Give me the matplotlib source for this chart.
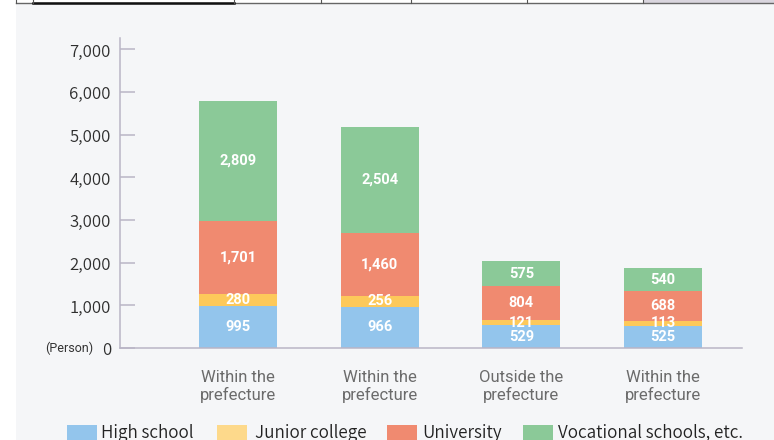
import matplotlib
matplotlib.use("Agg")
import matplotlib.pyplot as plt
from matplotlib.patches import Rectangle
from matplotlib.lines import Line2D
import numpy as np

categories = ["Within the\nprefecture", "Within the\nprefecture", "Outside the\nprefecture", "Within the\nprefecture"]
series_names = ["High school", "Junior college", "University", "Vocational schools, etc."]
high_school = [995, 966, 529, 525]
junior_college = [280, 256, 121, 113]
university = [1701, 1460, 804, 688]
vocational = [2809, 2504, 575, 540]
yticks = [0, 1000, 2000, 3000, 4000, 5000, 6000, 7000]
ytick_labels = ["0", "1,000", "2,000", "3,000", "4,000", "5,000", "6,000", "7,000"]

bar_colors = ["#93c5ec", "#fdc95a", "#f08a70", "#8bc998"]
legend_colors = ["#93c5ec", "#fdd98b", "#f08a70", "#8bc998"]

W, H = 774, 440
fig = plt.figure(figsize=(W / 100, H / 100), dpi=100)
fig.patch.set_facecolor("white")

def fx(px):
    return px / W

def fy(py):
    return 1 - py / H

# background panel
fig.patches.append(Rectangle((fx(16), 0), 1 - fx(16), fy(4), transform=fig.transFigure,
                             facecolor="#f5f6f8", edgecolor="none", zorder=-10))
# top strip decoration
fig.patches.append(Rectangle((fx(643), fy(3)), 1 - fx(643), fy(0) - fy(3), transform=fig.transFigure,
                             facecolor="#d9d5de", edgecolor="none", zorder=-9))
fig.lines.append(Line2D([fx(16), fx(774)], [fy(3.2), fy(3.2)], transform=fig.transFigure,
                        color="#666666", lw=1.0))
fig.lines.append(Line2D([fx(33), fx(234)], [fy(2.8), fy(2.8)], transform=fig.transFigure,
                        color="#111111", lw=1.8))
for vx in [16, 33, 234, 321, 411, 527, 643]:
    fig.lines.append(Line2D([fx(vx), fx(vx)], [fy(0), fy(3.5)], transform=fig.transFigure,
                            color="#555555", lw=0.8))

ax = fig.add_axes([fx(120), fy(348), fx(742) - fx(120), fy(38) - fy(348)])
ax.set_facecolor("none")

x = np.arange(len(categories))
width = 0.55
series = [high_school, junior_college, university, vocational]
bottom = np.zeros(len(categories))
for vals, col in zip(series, bar_colors):
    vals = np.array(vals, dtype=float)
    ax.bar(x, vals, width, bottom=bottom, color=col, edgecolor="none", zorder=2)
    for xi, b, v in zip(x, bottom, vals):
        ax.text(xi, b + v / 2, f"{int(v):,}", ha="center", va="center", color="white",
                fontsize=10.5, fontweight="bold", family=["Roboto", "DejaVu Sans"], zorder=3)
    bottom += vals

ax.set_xlim(-0.833, 3.558)
ax.set_ylim(0, 7260)

ax.set_yticks(yticks)
ax.set_yticklabels(ytick_labels, family=["Noto Sans CJK JP", "DejaVu Sans"], fontsize=12,
                   color="#2e2e2e", fontweight=350)
ax.tick_params(axis="y", direction="in", length=11, width=1.1, color="#b9b5c6", pad=6.5)
ax.set_xticks(x)
ax.set_xticklabels(categories, family=["Roboto", "DejaVu Sans"], fontsize=12, color="#6b6b6b",
                   linespacing=1.2)
ax.tick_params(axis="x", length=0, pad=15.5)

for s in ["top", "right"]:
    ax.spines[s].set_visible(False)
ax.spines["left"].set_color("#b9b5c6")
ax.spines["left"].set_linewidth(1.1)
ax.spines["bottom"].set_color("#b9b5c6")
ax.spines["bottom"].set_linewidth(1.1)

fig.text(fx(93), fy(348), "(Person)", ha="right", va="center", fontsize=9, color="#333333",
         family=["Roboto", "DejaVu Sans"])

# legend
legend_patch_x = [67, 217, 387, 523]
legend_text_x = [101, 255, 422, 558]
for name, col, px, tx in zip(series_names, legend_colors, legend_patch_x, legend_text_x):
    fig.patches.append(Rectangle((fx(px), fy(442)), fx(30), fy(425) - fy(442), transform=fig.transFigure,
                                 facecolor=col, edgecolor="none"))
    fig.text(fx(tx), fy(433), name, ha="left", va="center", fontsize=12.3, color="#222222",
             family=["Noto Sans CJK JP", "DejaVu Sans"], fontweight=350)

fig.savefig("out.png", dpi=100, facecolor=fig.get_facecolor())
